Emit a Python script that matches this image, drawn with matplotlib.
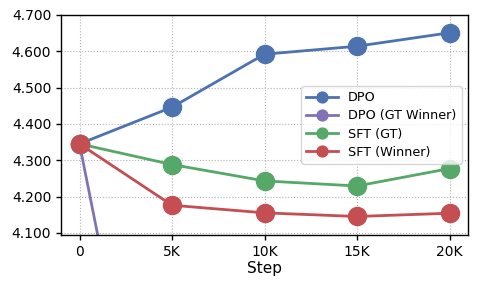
import matplotlib
matplotlib.use("Agg")
import matplotlib.pyplot as plt
from matplotlib.ticker import FuncFormatter

steps = [0, 5000, 10000, 15000, 20000]
tick_labels = ["0", "5K", "10K", "15K", "20K"]
dpo = [4.345, 4.446, 4.592, 4.614, 4.651]
dpo_gt_winner = [4.345, 3.07, 2.95, 2.90, 2.88]
sft_gt = [4.345, 4.288, 4.243, 4.229, 4.277]
sft_winner = [4.345, 4.176, 4.155, 4.145, 4.154]

series = [
    ("DPO", dpo, "#4C72B0"),
    ("DPO (GT Winner)", dpo_gt_winner, "#8172B3"),
    ("SFT (GT)", sft_gt, "#55A868"),
    ("SFT (Winner)", sft_winner, "#C44E52"),
]

fig = plt.figure(figsize=(4.78, 2.89), dpi=100)
ax = fig.add_axes([61/478, 1 - 235/289, (468-61)/478, (235-15)/289])

for name, vals, col in series:
    ax.plot(steps, vals, "-o", color=col, lw=2, markersize=13, label=name)

ax.set_xlim(-1000, 21000)
ax.set_ylim(4.094, 4.70)
ax.set_xticks(steps)
ax.set_xticklabels(tick_labels)
ax.set_yticks([4.1, 4.2, 4.3, 4.4, 4.5, 4.6, 4.7])
ax.yaxis.set_major_formatter(FuncFormatter(lambda v, p: f"{v:.3f}"))
ax.tick_params(labelsize=10, direction="out", length=3.5, width=1)
ax.grid(True, linestyle=":", color="#b0b0b0", linewidth=0.8)
ax.set_axisbelow(True)
for s in ax.spines.values():
    s.set_color("black")
    s.set_linewidth(1)
ax.set_xlabel("Step", fontsize=11, labelpad=2)

leg = ax.legend(loc="center right", fontsize=9.2, markerscale=0.6,
                handlelength=2.5, framealpha=0.8, borderaxespad=0.5,
                labelspacing=0.4)

fig.savefig("out.png", dpi=100)
